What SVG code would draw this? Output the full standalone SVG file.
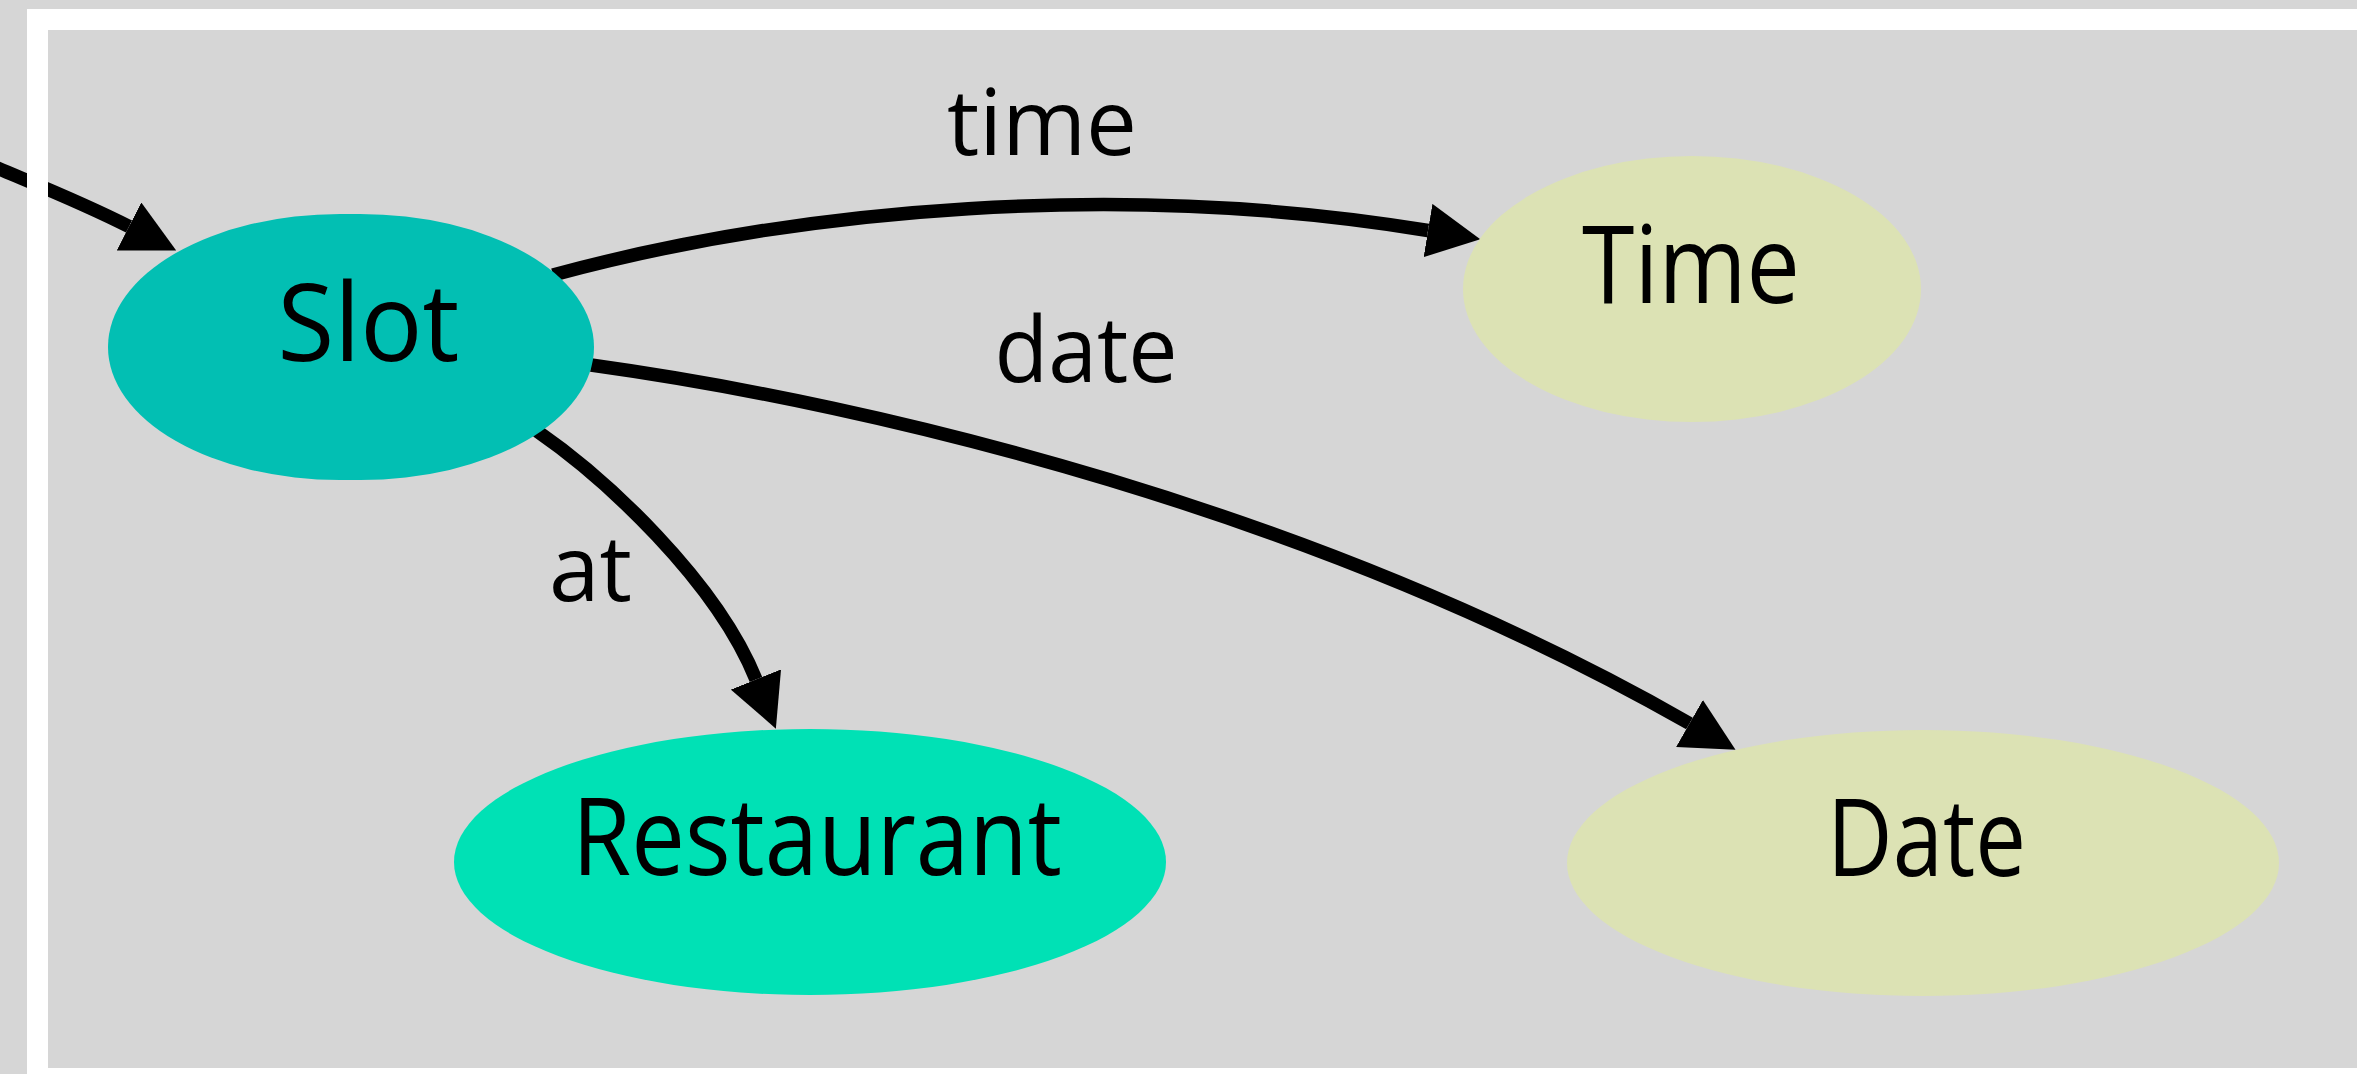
<svg xmlns="http://www.w3.org/2000/svg" width="2357" height="1074" viewBox="0 0 2357 1074">
  <defs>
    <style>
      .edge { fill: none; stroke: #000; stroke-width: 13.5; marker-end: url(#arrow); }
      .node-text { font-family: "Open Sans", "Noto Sans", "DejaVu Sans", sans-serif; font-size: 108px; fill: #000; }
      .edge-text { font-family: "Open Sans", "Noto Sans", "DejaVu Sans", sans-serif; font-size: 92px; fill: #000; }
      .bg { fill: #d6d6d6; }
    </style>
    <marker id="arrow" markerUnits="userSpaceOnUse" viewBox="0 0 53 54" refX="0" refY="27" markerWidth="53" markerHeight="54" orient="auto">
      <path d="M0,0 L53,27 L0,54 Z" fill="#000"/>
    </marker>
  </defs>

  <rect class="bg" x="0" y="0" width="2357" height="1074"/>
  <rect x="27" y="9" width="2400" height="1100" fill="#ffffff"/>
  <rect class="bg" x="48" y="30" width="2400" height="1038"/>

  <g id="connectors">
    <path id="edge-in" class="edge" d="M -5,167 C 30,182 81,202 129,226.5"/>
    <path id="edge-time" class="edge" d="M 553,275 C 800,208 1122,180 1428,230.5"/>
    <path id="edge-date" class="edge" d="M 591,365 C 880,405 1318,511.5 1689.5,723.5"/>
    <path id="edge-at" class="edge" d="M 537,431 C 605,478 716,580.5 756,679.5"/>
    <text class="edge-text" x="947" y="155" textLength="190" lengthAdjust="spacingAndGlyphs">time</text>
    <text class="edge-text" x="994.5" y="382" textLength="183" lengthAdjust="spacingAndGlyphs">date</text>
    <text class="edge-text" x="549" y="601" textLength="83" lengthAdjust="spacingAndGlyphs">at</text>
  </g>

  <rect x="27" y="9" width="21" height="1065" fill="#ffffff"/>

  <g id="node-slot">
    <path d="M 340,214 L 360,214 A 234,133 0 0 1 360,480 L 340,480 A 232,133 0 0 1 340,214 Z" fill="#02bfb3"/>
    <text class="node-text" x="277.5" y="361" textLength="182" lengthAdjust="spacingAndGlyphs">Slot</text>
  </g>

  <g id="node-time">
    <ellipse cx="1692" cy="289" rx="229" ry="133" fill="#dce2b4"/>
    <text class="node-text" x="1582" y="303" textLength="218" lengthAdjust="spacingAndGlyphs">Time</text>
  </g>

  <g id="node-restaurant">
    <ellipse cx="810" cy="862" rx="356" ry="133" fill="#00e1b5"/>
    <text class="node-text" x="572" y="875" textLength="490" lengthAdjust="spacingAndGlyphs">Restaurant</text>
  </g>

  <g id="node-date">
    <ellipse cx="1923" cy="863" rx="356" ry="133" fill="#dce2b4"/>
    <text class="node-text" x="1827" y="876" textLength="199" lengthAdjust="spacingAndGlyphs">Date</text>
  </g>
</svg>
